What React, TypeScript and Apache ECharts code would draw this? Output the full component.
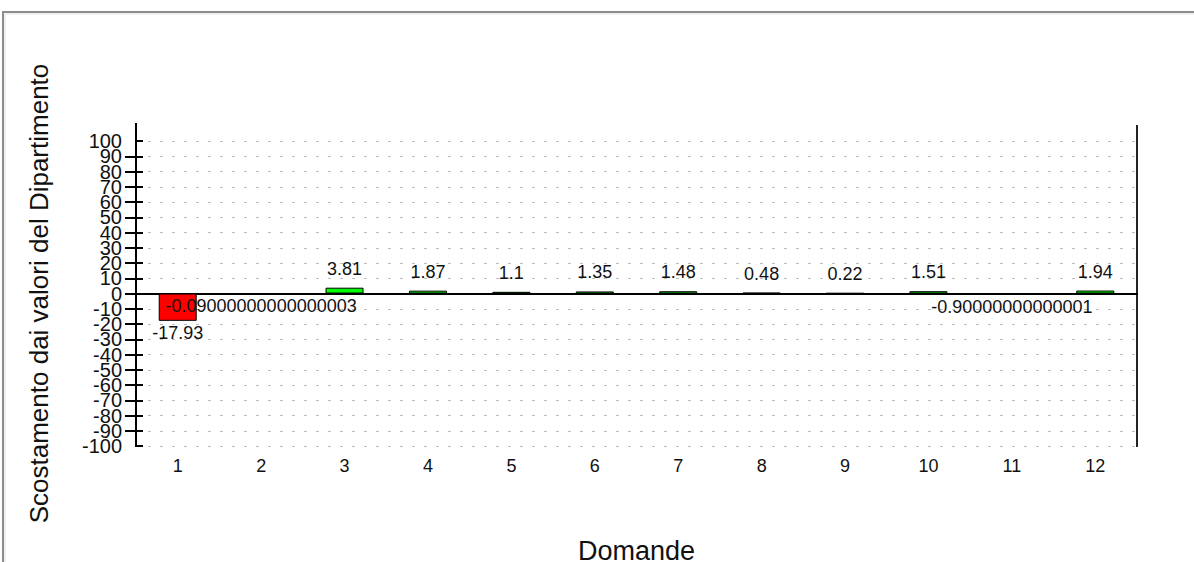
import React, { useEffect, useRef } from "react";
import * as echarts from "echarts";

const categories = ["1", "2", "3", "4", "5", "6", "7", "8", "9", "10", "11", "12"];
const values = [-17.93, -0.09, 3.81, 1.87, 1.1, 1.35, 1.48, 0.48, 0.22, 1.51, -0.9, 1.94];
const valueLabels = [
  "-17.93",
  "-0.09000000000000003",
  "3.81",
  "1.87",
  "1.1",
  "1.35",
  "1.48",
  "0.48",
  "0.22",
  "1.51",
  "-0.90000000000001",
  "1.94",
];
const yMin = -100;
const yMax = 100;
const yStep = 10;
const xTitle = "Domande";
const yTitle = "Scostamento dai valori del Dipartimento";

const FONT = "'Liberation Sans', Arial, sans-serif";

export default function App() {
  const ref = useRef<HTMLDivElement>(null);
  useEffect(() => {
    if (!ref.current) return;
    const chart = echarts.init(ref.current, null, { renderer: "svg" });
    const data = values.map((v) => ({
      value: v,
      itemStyle: { color: v < 0 ? "#ff0000" : "#00ff00", borderColor: "#000", borderWidth: 1 },
      label: v < 0 ? { position: "bottom", distance: 3 } : { position: "top", distance: 10 },
    }));
    const labelBase = { color: "#111", fontSize: 20, margin: 14, fontFamily: FONT };
    chart.setOption({
      animation: false,
      textStyle: { fontFamily: FONT },
      grid: { left: 136, right: 57, top: 141, bottom: 116, outerBoundsMode: "none", containLabel: false },
      xAxis: [
        {
          type: "category",
          data: categories,
          axisLine: { show: false, onZero: false },
          axisTick: { show: false },
          axisLabel: { color: "#111", fontSize: 18, margin: 11, fontFamily: FONT },
          name: xTitle,
          nameLocation: "middle",
          nameGap: 91,
          nameTextStyle: { color: "#111", fontSize: 27, fontFamily: FONT },
        },
        {
          type: "category",
          data: categories,
          position: "bottom",
          axisLine: { show: true, onZero: true, lineStyle: { color: "#000", width: 2 } },
          axisTick: { show: false },
          axisLabel: { show: false },
          splitLine: { show: false },
        },
      ],
      yAxis: [
        {
          type: "value",
          min: yMin,
          max: yMax,
          interval: yStep,
          axisLine: { show: false },
          axisTick: { show: true, inside: false, length: 11, lineStyle: { color: "#000", width: 2 } },
          axisLabel: {
            ...labelBase,
            showMinLabel: false,
            showMaxLabel: false,
            hideOverlap: false,
          },
          splitLine: { show: true, lineStyle: { color: "#bdbdbd", width: 1, type: [3, 9] } },
          name: yTitle,
          nameLocation: "middle",
          nameRotate: 90,
          nameGap: 84,
          nameTextStyle: { color: "#111", fontSize: 26, fontFamily: FONT },
        },
        {
          type: "value",
          position: "left",
          min: yMin,
          max: yMax,
          interval: yStep,
          axisLine: { show: false },
          axisTick: { show: true, inside: true, length: 7, lineStyle: { color: "#000", width: 2 } },
          axisLabel: {
            ...labelBase,
            showMinLabel: true,
            showMaxLabel: true,
            hideOverlap: false,
            formatter: (v: number) => (v === yMin || v === yMax ? String(v) : ""),
          },
          splitLine: { show: false },
        },
      ],
      series: [
        {
          type: "bar",
          data,
          barWidth: 38,
          z: 3,
          label: {
            show: true,
            color: "#111",
            fontSize: 18,
            fontFamily: FONT,
            formatter: (p: any) => valueLabels[p.dataIndex],
          },
        },
      ],
      graphic: [
        {
          type: "rect",
          shape: { x: 3, y: 12, width: 1400, height: 800 },
          style: { fill: "none", stroke: "#8c8c8c", lineWidth: 2 },
          silent: true,
        },
        {
          type: "rect",
          shape: { x: 5, y: 14, width: 1400, height: 800 },
          style: { fill: "none", stroke: "#e2e2e2", lineWidth: 1 },
          silent: true,
        },
        {
          type: "line",
          shape: { x1: 136, y1: 123, x2: 136, y2: 447 },
          style: { stroke: "#000", lineWidth: 2 },
          silent: true,
        },
        {
          type: "line",
          shape: { x1: 1137, y1: 125, x2: 1137, y2: 447 },
          style: { stroke: "#222", lineWidth: 2 },
          silent: true,
        },
      ],
    });
    return () => chart.dispose();
  }, []);
  return (
    <div
      ref={ref}
      style={{ position: "absolute", left: 0, top: 0, width: 1194, height: 562, background: "#fff" }}
    />
  );
}
